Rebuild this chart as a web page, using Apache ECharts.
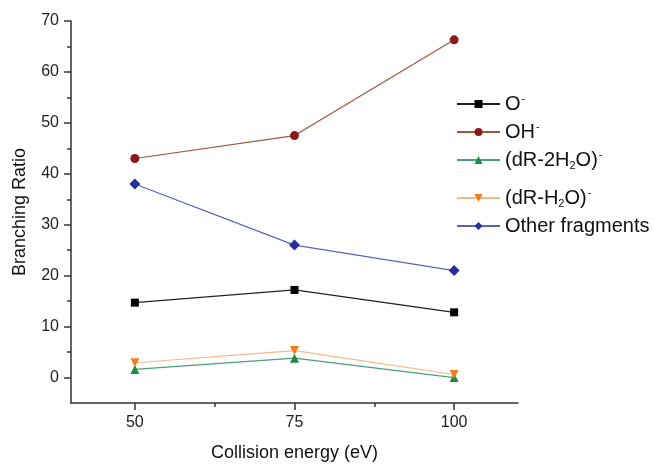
<!DOCTYPE html>
<html><head><meta charset="utf-8">
<script src="https://cdn.jsdelivr.net/npm/echarts@6/dist/echarts.min.js"></script>
<style>html,body{margin:0;padding:0;background:#fff}#c{width:654px;height:467px}</style>
</head><body><div id="c"></div>
<script>
const energies = [50, 75, 100];
const oMinus = [14.7, 17.2, 12.8];
const ohMinus = [43.0, 47.5, 66.3];
const dr2h2o = [1.6, 3.8, 0.0];
const drh2o = [2.9, 5.3, 0.6];
const otherFrag = [38.0, 26.0, 21.0];
const xTickLabels = [50, 75, 100];
const xMinorTicks = [62.5, 87.5];
const yTickLabels = [0, 10, 20, 30, 40, 50, 60, 70];
const yMinorTicks = [5, 15, 25, 35, 45, 55, 65];

const names = ['O-', 'OH-', '(dR-2H2O)-', '(dR-H2O)-', 'Other fragments'];
const legendText = {
  'O-': 'O{sup|-}',
  'OH-': 'OH{sup|-}',
  '(dR-2H2O)-': '(dR-2H{sub|2}O){sup|-}',
  '(dR-H2O)-': '(dR-H{sub|2}O){sup|-}',
  'Other fragments': 'Other fragments'
};
const pairs = a => energies.map((e, i) => [e, a[i]]);
const font = 'Liberation Sans, Arial, sans-serif';
const axisColor = '#333';

function mk(name, data, lineColor, markColor, symbol, size, rot) {
  return {
    name, type: 'line', data: pairs(data), symbol, symbolSize: size, symbolRotate: rot || 0,
    lineStyle: {color: lineColor, width: 1.2},
    itemStyle: {color: markColor},
    emphasis: {disabled: true}, animation: false
  };
}

const rich = {
  sup: {fontSize: 11, verticalAlign: 'top', padding: [0, 0, 8, 1], fontFamily: font, color: '#111'},
  sub: {fontSize: 11, verticalAlign: 'bottom', padding: [10, 0, 0, 0], fontFamily: font, color: '#111'}
};
const legBase = {
  orient: 'vertical', left: 451, itemWidth: 43, itemHeight: 10,
  textStyle: {fontSize: 20, fontFamily: font, color: '#111', rich, lineHeight: 22},
  formatter: n => legendText[n], selectedMode: false
};

const chart = echarts.init(document.getElementById('c'));
chart.setOption({
  animation: false,
  grid: {left: 71, right: 136, top: 21, bottom: 59, containLabel: false},
  legend: [
    Object.assign({}, legBase, {top: 88, itemGap: 6, data: names.slice(0, 3)}),
    Object.assign({}, legBase, {top: 182, itemGap: 6, data: names.slice(3)})
  ],
  xAxis: [{
    type: 'value', min: 40, max: 110,
    name: 'Collision energy (eV)', nameLocation: 'middle', nameGap: 41,
    nameTextStyle: {fontSize: 18, fontFamily: font, color: '#111'},
    axisLine: {show: true, onZero: false, lineStyle: {color: axisColor, width: 1.5}},
    axisTick: {show: true, customValues: xTickLabels, length: 7, lineStyle: {color: axisColor, width: 1.5}},
    axisLabel: {customValues: xTickLabels, fontSize: 16, fontFamily: font, color: '#222', margin: 12},
    splitLine: {show: false}
  }, {
    type: 'value', min: 40, max: 110, position: 'bottom',
    axisLine: {show: false, onZero: false},
    axisTick: {show: true, customValues: xMinorTicks, length: 4, lineStyle: {color: axisColor, width: 1.5}},
    axisLabel: {show: false}, splitLine: {show: false}
  }],
  yAxis: [{
    type: 'value', min: -5, max: 70,
    name: 'Branching Ratio', nameLocation: 'middle', nameGap: 42,
    nameTextStyle: {fontSize: 18, fontFamily: font, color: '#111'},
    axisLine: {show: true, onZero: false, lineStyle: {color: axisColor, width: 1.5}},
    axisTick: {show: true, customValues: yTickLabels, length: 7, lineStyle: {color: axisColor, width: 1.5}},
    axisLabel: {customValues: yTickLabels, fontSize: 16, fontFamily: font, color: '#222', margin: 12},
    splitLine: {show: false}
  }, {
    type: 'value', min: -5, max: 70, position: 'left',
    axisLine: {show: false, onZero: false},
    axisTick: {show: true, customValues: yMinorTicks, length: 4, lineStyle: {color: axisColor, width: 1.5}},
    axisLabel: {show: false}, splitLine: {show: false}
  }],
  series: [
    mk(names[0], oMinus, '#222', '#000', 'rect', 8),
    mk(names[1], ohMinus, '#a0563a', '#8b1a1a', 'circle', 9),
    mk(names[2], dr2h2o, '#4aa07a', '#1e8a45', 'triangle', 9),
    mk(names[3], drh2o, '#f5b888', '#f07d1e', 'triangle', 9, 180),
    mk(names[4], otherFrag, '#5566b8', '#26309a', 'diamond', 11)
  ]
});
</script></body></html>
